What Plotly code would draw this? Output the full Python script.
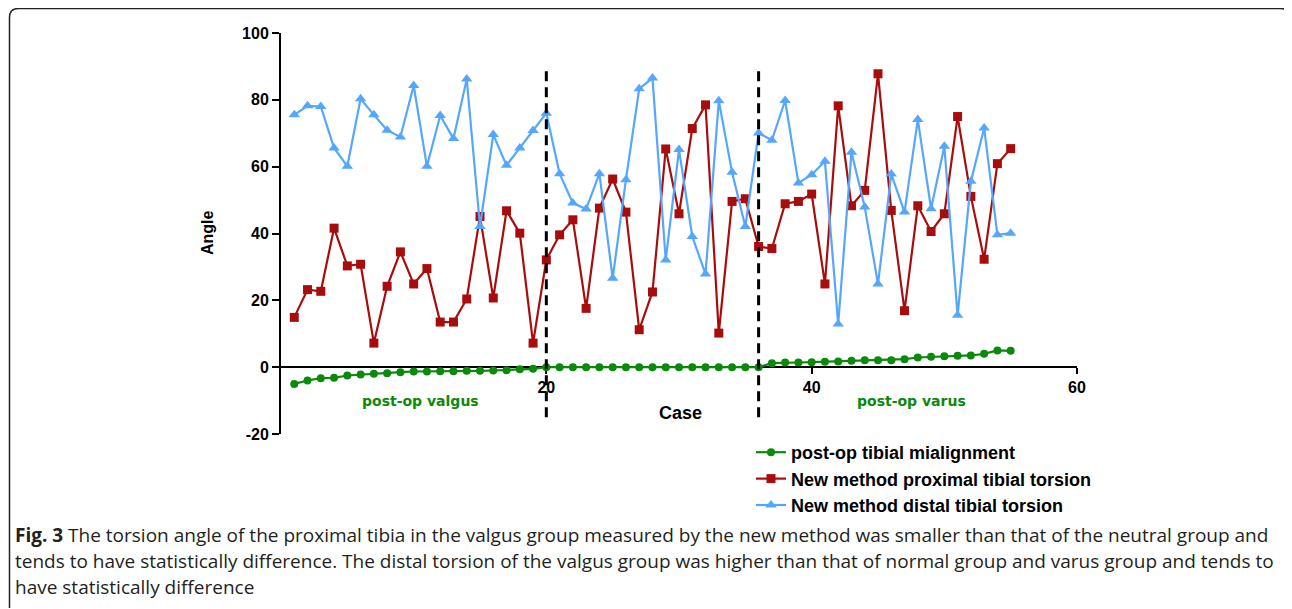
import plotly.graph_objects as go

# ---------------- data ----------------
cases = list(range(1, 56))
malalignment = [-5.0, -4.0, -3.3, -3.2, -2.5, -2.2, -2.0, -1.8, -1.5, -1.3,
                -1.3, -1.2, -1.2, -1.1, -1.1, -1.0, -0.9, -0.6, -0.5, 0.0,
                0.0, 0.0, 0.0, 0.0, 0.0, 0.0, 0.0, 0.0, 0.0, 0.0,
                0.0, 0.0, 0.0, 0.0, 0.0, 0.0,
                1.2, 1.4, 1.4, 1.5, 1.6, 1.7, 1.9, 2.1, 2.1, 2.1,
                2.4, 2.9, 3.1, 3.3, 3.4, 3.5, 4.0, 5.0, 4.9]
proximal = [14.9, 23.2, 22.7, 41.6, 30.3, 30.8, 7.2, 24.2, 34.5, 24.9,
            29.5, 13.5, 13.5, 20.4, 45.1, 20.7, 46.8, 40.1, 7.2, 32.1,
            39.6, 44.1, 17.6, 47.6, 56.3, 46.4, 11.2, 22.5, 65.3, 45.9,
            71.4, 78.5, 10.2, 49.6, 50.4, 36.1,
            35.5, 48.9, 49.6, 51.8, 24.9, 78.2, 48.3, 52.9, 87.8, 46.9,
            16.9, 48.3, 40.6, 45.9, 75.0, 51.1, 32.3, 60.9, 65.4]
distal = [75.5, 78.2, 78.0, 65.6, 60.1, 80.3, 75.5, 70.9, 68.9, 84.3,
          60.1, 75.3, 68.4, 86.2, 42.1, 69.6, 60.4, 65.6, 70.8, 76.0,
          57.9, 49.1, 47.3, 57.9, 26.6, 56.1, 83.3, 86.5, 32.1, 65.1,
          39.1, 27.9, 79.7, 58.3, 42.1, 70.1,
          67.9, 79.8, 55.1, 57.6, 61.6, 12.9, 64.3, 47.9, 24.9, 57.8,
          46.4, 74.1, 47.4, 66.1, 15.5, 55.6, 71.6, 39.6, 40.1]

series_names = ["post-op tibial mialignment",
                "New method proximal tibial torsion",
                "New method distal tibial torsion"]
group_boundaries = [20, 36]
group_labels = ["post-op valgus", "post-op varus"]
group_label_x = [10.5, 47.5]
x_ticks = [20, 40, 60]
y_ticks = [-20, 0, 20, 40, 60, 80, 100]

caption_lines = [
    "<b>Fig. 3</b> The torsion angle of the proximal tibia in the valgus group measured by the new method was smaller than that of the neutral group and",
    "tends to have statistically difference. The distal torsion of the valgus group was higher than that of normal group and varus group and tends to",
    "have statistically difference",
]

# ---------------- layout geometry (page pixel coordinates) ----------------
OFF = 8                      # page body margin
PAGE_W, PAGE_H = 1292, 609
W, H = PAGE_W - OFF, PAGE_H - OFF
L, R, T, B = 281, 1077, 33, 434   # plot area in page coordinates


def px(x):
    return (x - L) / (R - L)


def py(y):
    return (B - y) / (B - T)


GREEN = "#0a8a0a"
RED = "#a80d0d"
BLUE = "#55a6ff"
AXF = "Liberation Sans, Arial, sans-serif"

fig = go.Figure()
fig.add_trace(go.Scatter(x=cases, y=malalignment, name=series_names[0], mode="lines+markers",
                         line=dict(color=GREEN, width=2.2),
                         marker=dict(symbol="circle", size=8, color=GREEN)))
fig.add_trace(go.Scatter(x=cases, y=proximal, name=series_names[1], mode="lines+markers",
                         line=dict(color=RED, width=2.2),
                         marker=dict(symbol="square", size=9, color=RED)))
fig.add_trace(go.Scatter(x=cases, y=distal, name=series_names[2], mode="lines+markers",
                         line=dict(color=BLUE, width=2.2),
                         marker=dict(symbol="triangle-up", size=10, color=BLUE)))

shapes = []
for xb in group_boundaries:
    shapes.append(dict(type="line", xref="x", yref="y", x0=xb, x1=xb, y0=-15, y1=90,
                       line=dict(color="black", width=3, dash="10px,6px")))

# rounded border frame
r = 9
x0, x1 = px(9.5), px(1289.5)
y0, y1 = py(608), py(8.5)
rx, ry = r / (R - L), r / (B - T)
path = (f"M {x0},{y0} L {x0},{y1 - ry} Q {x0},{y1} {x0 + rx},{y1} "
        f"L {x1 - rx},{y1} Q {x1},{y1} {x1},{y1 - ry} L {x1},{y0}")
shapes.append(dict(type="path", xref="paper", yref="paper", path=path,
                   line=dict(color="#222222", width=1.5)))

annotations = []
for lbl, gx in zip(group_labels, group_label_x):
    annotations.append(dict(x=gx, y=-10, xref="x", yref="y", text=f"<b>{lbl}</b>",
                            xanchor="center", yanchor="middle",
                            showarrow=False, font=dict(family="DejaVu Sans", size=14, color=GREEN)))
annotations.append(dict(x=px(207), y=py(233), xref="paper", yref="paper", text="<b>Angle</b>",
                        xanchor="center", yanchor="middle",
                        textangle=-90, showarrow=False, font=dict(family=AXF, size=16, color="black")))
annotations.append(dict(x=px(680), y=py(413), xref="paper", yref="paper", text="<b>Case</b>",
                        xanchor="center", yanchor="middle",
                        showarrow=False, font=dict(family=AXF, size=18, color="black")))
for i, line in enumerate(caption_lines):
    annotations.append(dict(x=px(13), y=py(535 + 26 * i), xref="paper", yref="paper",
                            xanchor="left", yanchor="middle", text=line, showarrow=False,
                            align="left", font=dict(family="Open Sans", size=19, color="#231f20")))

fig.update_layout(
    width=W, height=H,
    margin=dict(l=L - OFF, r=PAGE_W - R, t=T - OFF, b=PAGE_H - B, pad=0),
    paper_bgcolor="white", plot_bgcolor="white",
    showlegend=True,
    legend=dict(x=px(751), y=py(434), xanchor="left", yanchor="top",
                font=dict(family=AXF, size=18, color="black", weight="bold"),
                bgcolor="rgba(0,0,0,0)", itemwidth=30, tracegroupgap=0),
    xaxis=dict(range=[0, 60], domain=[0, 1], anchor="free", position=1 / 6,
               showline=True, linecolor="black", linewidth=2,
               ticks="outside", ticklen=6, tickwidth=2, tickcolor="black",
               tickvals=x_ticks, ticktext=[str(v) for v in x_ticks],
               tickfont=dict(family=AXF, size=16, color="black", weight="bold"),
               showgrid=False, zeroline=False, layer="below traces"),
    yaxis=dict(range=[-20, 100], domain=[0, 1], anchor="x",
               showline=True, linecolor="black", linewidth=2,
               ticks="outside", ticklen=7, tickwidth=2, tickcolor="black",
               tickvals=y_ticks, ticktext=[str(v) for v in y_ticks],
               tickfont=dict(family=AXF, size=16, color="black", weight="bold"),
               showgrid=False, zeroline=False, layer="below traces"),
    shapes=shapes,
    annotations=annotations,
)

fig.write_html("out.html")
